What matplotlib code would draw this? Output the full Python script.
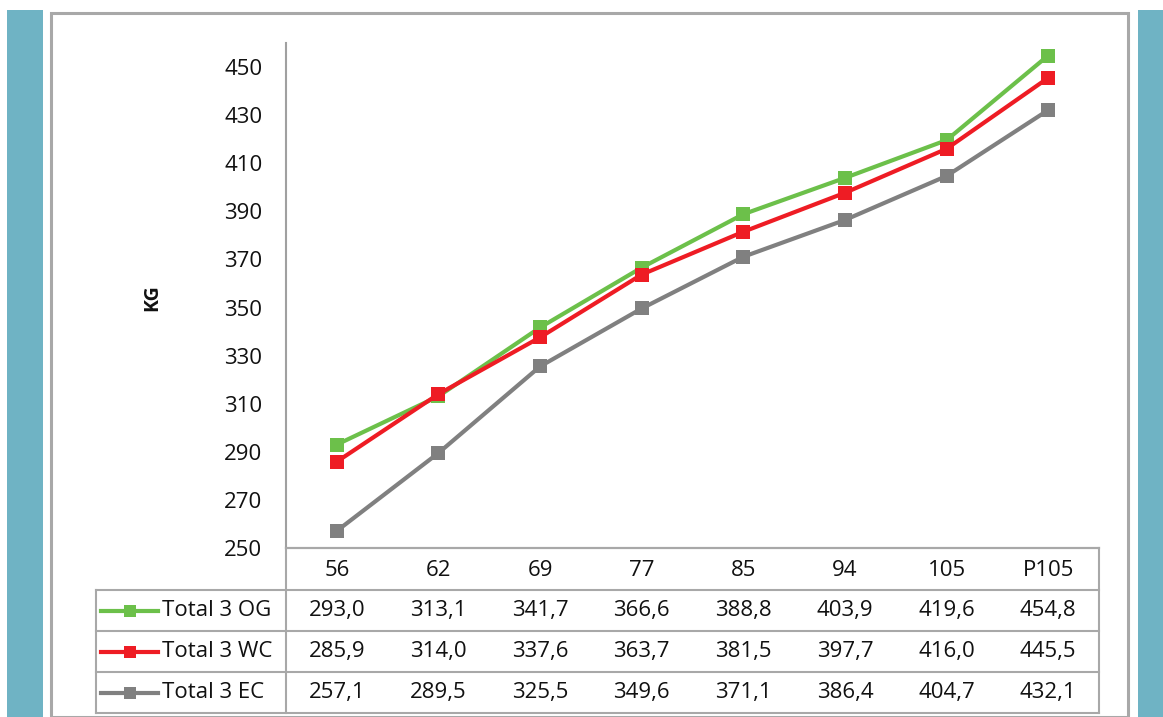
import matplotlib
matplotlib.use("Agg")
import matplotlib.pyplot as plt
from matplotlib.lines import Line2D
from matplotlib.patches import Rectangle
from matplotlib.transforms import blended_transform_factory

plt.rcParams['font.family'] = ['Open Sans', 'DejaVu Sans']

categories = ["56", "62", "69", "77", "85", "94", "105", "P105"]
series_names = ["Total 3 OG", "Total 3 WC", "Total 3 EC"]
og = [293.0, 313.1, 341.7, 366.6, 388.8, 403.9, 419.6, 454.8]
wc = [285.9, 314.0, 337.6, 363.7, 381.5, 397.7, 416.0, 445.5]
ec = [257.1, 289.5, 325.5, 349.6, 371.1, 386.4, 404.7, 432.1]
series_values = [og, wc, ec]
series_colors = ["#6cc04a", "#ee1c24", "#808080"]
yticks = [250, 270, 290, 310, 330, 350, 370, 390, 410, 430, 450]

W, H = 1163, 717
fig = plt.figure(figsize=(W / 100, H / 100), dpi=100)
fig.patch.set_facecolor("white")

def fx(px):
    return px / W

def fy(py):
    return 1 - py / H

txt = "#111111"
fs = 16
teal = "#6fb3c4"
fig.add_artist(Rectangle((fx(7), 0), fx(36), fy(10), transform=fig.transFigure,
                         facecolor=teal, edgecolor="none", zorder=-2))
fig.add_artist(Rectangle((fx(1138), 0), fx(25), fy(10), transform=fig.transFigure,
                         facecolor=teal, edgecolor="none", zorder=-2))
# chart border
fig.add_artist(Rectangle((fx(51), fy(717)), fx(1128 - 51), fy(13) - fy(717),
                         transform=fig.transFigure, facecolor="white",
                         edgecolor="#a8a8a8", linewidth=2.2, zorder=-1))

left, right = 286, 1099
top, bottom = 43, 548
ax = fig.add_axes([fx(left), fy(bottom), fx(right - left), fy(top) - fy(bottom)])
ax.set_facecolor("none")
x = list(range(len(categories)))
for vals, col in zip(series_values, series_colors):
    ax.plot(x, vals, color=col, linewidth=3, marker="s", markersize=10,
            markeredgewidth=0, zorder=3, clip_on=False)
ax.set_xlim(-0.5, len(categories) - 0.5)
ax.set_ylim(250, 460)
ax.set_yticks(yticks)
ax.set_yticklabels([str(t) for t in yticks], fontsize=fs, color=txt)
ax.set_xticks([])
for s in ["top", "right"]:
    ax.spines[s].set_visible(False)
ax.spines["left"].set_color("#a0a0a0")
ax.spines["left"].set_linewidth(1.5)
ax.spines["bottom"].set_color("#a0a0a0")
ax.spines["bottom"].set_linewidth(1.5)
ax.tick_params(axis="y", length=0, pad=17)
fig.text(fx(152), fy(298), "KG", rotation=90, fontsize=14, fontweight="bold",
         ha="center", va="center", color=txt)

# data table
lc = "#a8a8a8"
lw = 1.5
row_lines = [548, 590, 631, 672, 713]
tf = fig.transFigure
for i, yl in enumerate(row_lines):
    x0 = left if i == 0 else 96
    fig.add_artist(Line2D([fx(x0), fx(right)], [fy(yl), fy(yl)], transform=tf,
                          color=lc, linewidth=lw))
fig.add_artist(Line2D([fx(left), fx(left)], [fy(548), fy(713)], transform=tf, color=lc, linewidth=lw))
fig.add_artist(Line2D([fx(right), fx(right)], [fy(548), fy(713)], transform=tf, color=lc, linewidth=lw))
fig.add_artist(Line2D([fx(96), fx(96)], [fy(590), fy(713)], transform=tf, color=lc, linewidth=lw))

bt = blended_transform_factory(ax.transData, fig.transFigure)
hy = (row_lines[0] + row_lines[1]) / 2 + 1
for i, c in enumerate(categories):
    fig.text(i, fy(hy), c, transform=bt, ha="center", va="center", fontsize=fs, color=txt)
for r, (name, vals, col) in enumerate(zip(series_names, series_values, series_colors)):
    yc = (row_lines[r + 1] + row_lines[r + 2]) / 2
    fig.add_artist(Line2D([fx(101), fx(158)], [fy(yc), fy(yc)], transform=tf,
                          color=col, linewidth=3))
    fig.add_artist(Line2D([fx(129.5)], [fy(yc)], transform=tf, color=col,
                          marker="s", markersize=9, markeredgewidth=0))
    fig.text(fx(162), fy(yc), name, ha="left", va="center", fontsize=fs, color=txt)
    for i, v in enumerate(vals):
        fig.text(i, fy(yc), f"{v:.1f}".replace(".", ","), transform=bt,
                 ha="center", va="center", fontsize=fs, color=txt)

fig.savefig("out.png", dpi=100)
